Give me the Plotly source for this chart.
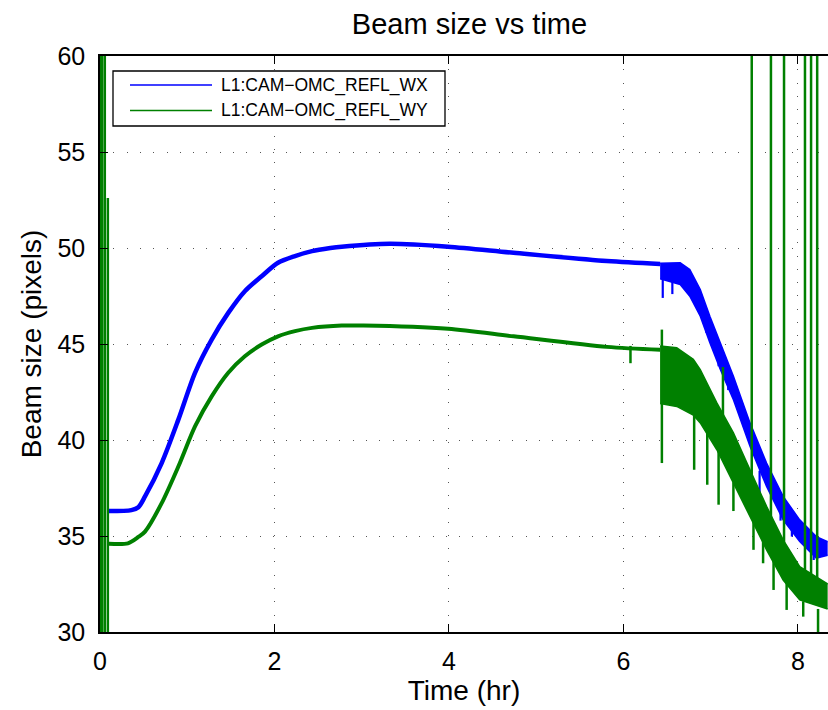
import plotly.graph_objects as go

# ---------------- data ----------------
# smooth parts
wx_t = [0.10, 0.36, 0.44, 0.516, 0.707, 0.898, 1.089, 1.28, 1.47, 1.66, 1.853, 2.04, 2.235, 2.43, 2.64, 2.77, 3.32, 3.99, 4.74, 5.81, 6.42]
wx_v = [36.3, 36.35, 36.5, 37.06, 38.8, 41.06, 43.5, 45.23, 46.62, 47.75, 48.53, 49.23, 49.58, 49.84, 50.0, 50.07, 50.22, 50.07, 49.75, 49.32, 49.17]

wy_t = [0.10, 0.32, 0.44, 0.516, 0.707, 0.898, 1.089, 1.28, 1.47, 1.66, 1.853, 2.04, 2.235, 2.43, 2.77, 3.02, 3.99, 4.74, 5.81, 6.42]
wy_v = [34.6, 34.62, 34.95, 35.23, 36.71, 38.62, 40.71, 42.27, 43.5, 44.36, 44.97, 45.4, 45.67, 45.84, 45.96, 45.96, 45.79, 45.4, 44.85, 44.7]

# noisy parts (upper / lower envelopes)
wx_band_t = [6.42, 6.65, 6.76, 6.88, 6.99, 7.11, 7.26, 7.45, 7.64, 7.83, 8.02, 8.21, 8.34]
wx_band_hi = [49.2, 49.23, 48.88, 47.84, 46.45, 45.06, 43.32, 40.89, 38.8, 37.06, 35.84, 34.97, 34.7]
wx_band_lo = [48.4, 48.1, 47.49, 46.45, 45.06, 43.67, 42.1, 39.67, 37.58, 35.84, 34.71, 33.84, 34.0]

wy_band_t = [6.42, 6.61, 6.8, 6.88, 7.07, 7.26, 7.45, 7.64, 7.83, 8.02, 8.34]
wy_band_hi = [44.9, 44.8, 44.2, 43.67, 41.93, 40.37, 38.45, 36.54, 34.8, 33.41, 32.5]
wy_band_lo = [41.9, 41.75, 41.3, 40.89, 39.49, 37.76, 36.02, 34.28, 32.71, 31.67, 31.2]

# glitches (time, low, high)
wx_spike_t = [0.003, 6.45, 6.56, 6.95, 7.09, 7.20, 7.56, 7.80, 7.93, 8.18]
wx_spike_lo = [30.0, 47.4, 47.6, 45.58, 43.84, 42.6, 37.06, 35.8, 34.97, 33.75]
wx_spike_hi = [42.5, 48.6, 48.5, 46.5, 44.9, 43.6, 38.4, 36.6, 35.8, 34.5]

wy_spike_t = [0.005, 0.015, 0.025, 0.055, 0.09, 6.08, 6.44, 6.81, 6.96, 7.09, 7.14, 7.26, 7.49, 7.60, 7.72, 7.87, 8.06, 8.23,
              7.47, 7.69, 7.84, 8.08, 8.15, 8.22]
wy_spike_lo = [30.0, 30.0, 30.0, 30.0, 30.0, 44.0, 38.8, 38.45, 37.67, 36.63, 39.5, 36.3, 34.28, 33.58, 32.19, 31.15, 30.8, 30.0,
               37.2, 35.5, 34.45, 33.1, 33.0, 32.7]
wy_spike_hi = [65.0, 65.0, 65.0, 65.0, 52.6, 44.9, 45.75, 41.4, 40.5, 39.5, 43.8, 37.8, 35.9, 34.9, 33.9, 32.6, 31.6, 31.2,
               65.0, 65.0, 65.0, 65.0, 65.0, 65.0]

x_ticks = [0, 2, 4, 6, 8]
y_ticks = [30, 35, 40, 45, 50, 55, 60]
series_names = ["L1:CAM\u2212OMC_REFL_WX", "L1:CAM\u2212OMC_REFL_WY"]

BLUE = "#0000FF"
GREEN = "#008000"
FONT = "Liberation Sans, Arial, Helvetica, sans-serif"


def segs(ts, lo, hi):
    xs, ys = [], []
    for t, a, b in zip(ts, lo, hi):
        xs += [t, t, None]
        ys += [a, b, None]
    return xs, ys


fig = go.Figure()

# ---- WX (blue) ----
fig.add_trace(go.Scatter(x=wx_t, y=wx_v, mode="lines", line=dict(color=BLUE, width=4.5, shape="spline", smoothing=0.8),
                         showlegend=False, hoverinfo="skip"))
fig.add_trace(go.Scatter(x=wx_band_t, y=wx_band_lo, mode="lines", line=dict(color=BLUE, width=1.5),
                         showlegend=False, hoverinfo="skip"))
fig.add_trace(go.Scatter(x=wx_band_t, y=wx_band_hi, mode="lines", line=dict(color=BLUE, width=1.5),
                         fill="tonexty", fillcolor=BLUE, showlegend=False, hoverinfo="skip"))
sx, sy = segs(wx_spike_t, wx_spike_lo, wx_spike_hi)
fig.add_trace(go.Scatter(x=sx, y=sy, mode="lines", line=dict(color=BLUE, width=2.2),
                         showlegend=False, hoverinfo="skip"))

# ---- WY (green) ----
fig.add_trace(go.Scatter(x=wy_t, y=wy_v, mode="lines", line=dict(color=GREEN, width=4, shape="spline", smoothing=0.8),
                         showlegend=False, hoverinfo="skip"))
fig.add_trace(go.Scatter(x=wy_band_t, y=wy_band_lo, mode="lines", line=dict(color=GREEN, width=1.5),
                         showlegend=False, hoverinfo="skip"))
fig.add_trace(go.Scatter(x=wy_band_t, y=wy_band_hi, mode="lines", line=dict(color=GREEN, width=1.5),
                         fill="tonexty", fillcolor=GREEN, showlegend=False, hoverinfo="skip"))
sx, sy = segs(wy_spike_t, wy_spike_lo, wy_spike_hi)
fig.add_trace(go.Scatter(x=sx, y=sy, mode="lines", line=dict(color=GREEN, width=2.5),
                         showlegend=False, hoverinfo="skip"))

# ---------------- legend (drawn by hand, MATLAB style) ----------------
L, W, T, H = 100, 728, 56, 576
px = lambda x: (x - L) / W
py = lambda y: (T + H - y) / H
shapes = [
    dict(type="rect", xref="paper", yref="paper", x0=px(113), x1=px(445), y0=py(126), y1=py(71),
         line=dict(color="black", width=1.3), fillcolor="white", layer="above"),
    dict(type="line", xref="paper", yref="paper", x0=px(130), x1=px(212), y0=py(85), y1=py(85),
         line=dict(color=BLUE, width=1.5), layer="above"),
    dict(type="line", xref="paper", yref="paper", x0=px(130), x1=px(212), y0=py(110.5), y1=py(110.5),
         line=dict(color=GREEN, width=1.5), layer="above"),
]
annotations = [
    dict(xref="paper", yref="paper", x=px(219), y=py(85), text=series_names[0], showarrow=False,
         xanchor="left", yanchor="middle", font=dict(family=FONT, size=17.5, color="black")),
    dict(xref="paper", yref="paper", x=px(219), y=py(110.5), text=series_names[1], showarrow=False,
         xanchor="left", yanchor="middle", font=dict(family=FONT, size=17.5, color="black")),
]

fig.update_layout(
    width=828, height=710,
    margin=dict(l=L, r=0, t=T, b=710 - T - H, autoexpand=False),
    paper_bgcolor="white", plot_bgcolor="white",
    font=dict(family=FONT, color="black"),
    title=dict(text="Beam size vs time", x=469.5 / 828, xref="container", xanchor="center",
               y=1 - 24 / 710, yref="container", yanchor="middle",
               font=dict(family=FONT, size=29, color="black")),
    shapes=shapes, annotations=annotations,
    showlegend=False,
)
fig.update_xaxes(
    range=[0, 8.344], tickvals=x_ticks, ticktext=[str(v) for v in x_ticks], automargin=False,
    ticks="inside", ticklen=8, tickwidth=1, tickcolor="black",
    showline=True, linecolor="black", linewidth=1.5, mirror="ticks",
    showgrid=True, gridcolor="#555555", gridwidth=1, griddash="1px,12.3px",
    zeroline=False, tickfont=dict(family=FONT, size=25, color="black"), ticklabelstandoff=6,
    title=dict(text="Time (hr)", font=dict(family=FONT, size=28, color="black"), standoff=4),
)
fig.update_yaxes(
    range=[30, 60], tickvals=y_ticks, ticktext=[str(v) for v in y_ticks], automargin=False,
    ticks="inside", ticklen=8, tickwidth=1, tickcolor="black",
    showline=True, linecolor="black", linewidth=1.5, mirror=False,
    showgrid=True, gridcolor="#555555", gridwidth=1, griddash="1px,12.3px",
    zeroline=False, tickfont=dict(family=FONT, size=25, color="black"), ticklabelstandoff=8,
    title=dict(text="Beam size (pixels)", font=dict(family=FONT, size=28, color="black"), standoff=8),
)

fig.write_html("out.html", config={"displayModeBar": False},
               post_script="document.body.style.margin='0px';document.body.style.padding='0px';")
